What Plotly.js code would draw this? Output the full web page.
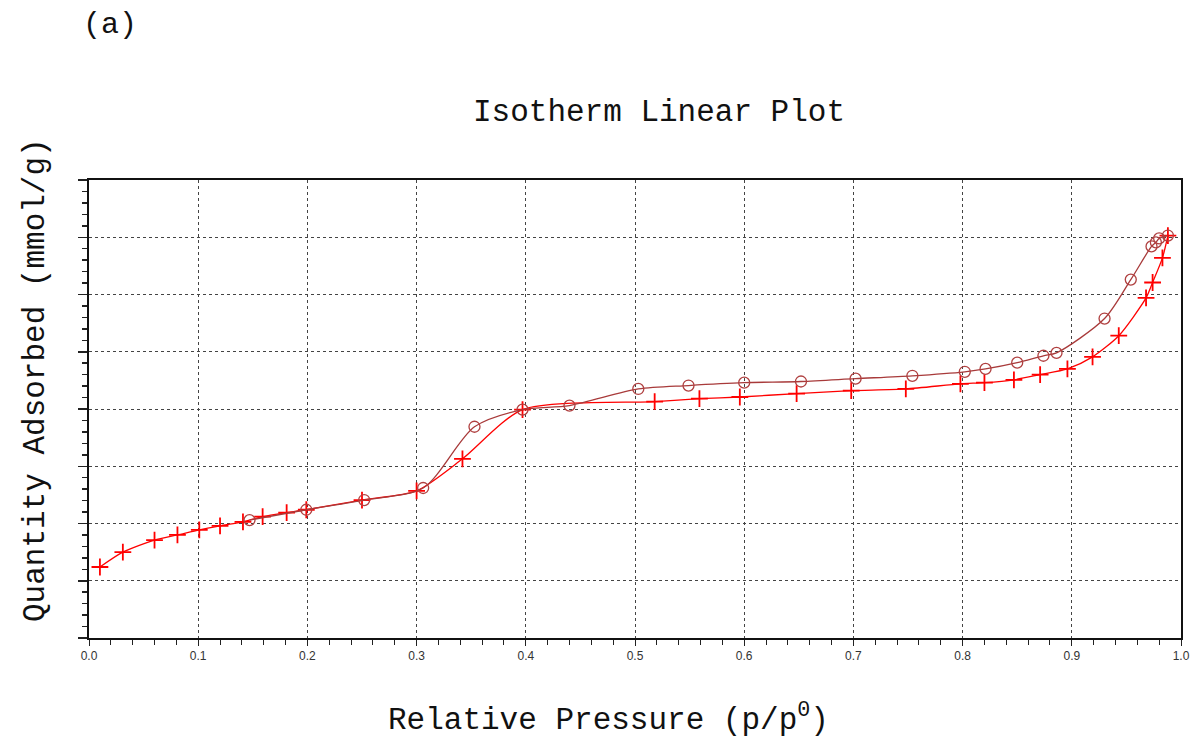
<!DOCTYPE html>
<html>
<head>
<meta charset="utf-8">
<script src="https://cdn.plot.ly/plotly-3.0.1.min.js"></script>
<style>
  html, body { margin: 0; padding: 0; background: #fff; }
  #chart { width: 1196px; height: 744px; }
</style>
</head>
<body>
<div id="chart"></div>
<script>
// Adsorption branch (relative pressure, quantity adsorbed)
const adsP = [0.010, 0.031, 0.060, 0.081, 0.101, 0.120, 0.141, 0.159, 0.181, 0.199,
              0.250, 0.300, 0.342, 0.397, 0.518, 0.559, 0.596, 0.648, 0.698, 0.748,
              0.798, 0.820, 0.847, 0.871, 0.896, 0.919, 0.943, 0.968, 0.974, 0.983, 0.988];
const adsQ = [1.24, 1.50, 1.71, 1.80, 1.89, 1.96, 2.03, 2.12, 2.19, 2.24,
              2.41, 2.57, 3.13, 3.99, 4.13, 4.18, 4.21, 4.27, 4.32, 4.35,
              4.44, 4.46, 4.51, 4.60, 4.70, 4.91, 5.28, 5.94, 6.21, 6.64, 7.03];

// Desorption branch
const desP = [0.988, 0.980, 0.977, 0.973, 0.954, 0.930, 0.886, 0.874, 0.850, 0.821,
              0.802, 0.754, 0.702, 0.652, 0.600, 0.549, 0.503, 0.440, 0.397, 0.353,
              0.306, 0.252, 0.199, 0.147];
const desQ = [7.03, 6.98, 6.91, 6.84, 6.26, 5.58, 4.98, 4.93, 4.81, 4.70,
              4.65, 4.58, 4.53, 4.48, 4.46, 4.41, 4.35, 4.06, 3.99, 3.69,
              2.62, 2.41, 2.24, 2.06];

const xTickVals = [0, 0.1, 0.2, 0.3, 0.4, 0.5, 0.6, 0.7, 0.8, 0.9, 1.0];
const xTickText = ['0.0', '0.1', '0.2', '0.3', '0.4', '0.5', '0.6', '0.7', '0.8', '0.9', '1.0'];

const titleFont = "'Liberation Mono', 'DejaVu Sans Mono', monospace";

const traces = [
  {
    x: adsP, y: adsQ, name: 'Adsorption', type: 'scatter', mode: 'lines+markers',
    line: { color: '#ff0000', width: 1.3, shape: 'spline', smoothing: 0.7 },
    marker: { symbol: 'cross-thin-open', size: 12, line: { color: '#ff0000', width: 1.8 } }
  },
  {
    x: desP, y: desQ, name: 'Desorption', type: 'scatter', mode: 'lines+markers',
    line: { color: '#a83a3a', width: 1.3, shape: 'spline', smoothing: 0.8 },
    marker: { symbol: 'circle-open', size: 11, color: '#b04040', line: { color: '#b04040', width: 1.3 } }
  }
];

const layout = {
  width: 1196, height: 744,
  paper_bgcolor: '#ffffff', plot_bgcolor: '#ffffff',
  margin: { l: 89, r: 15, t: 180, b: 106 },
  showlegend: false,
  title: {
    text: 'Isotherm Linear Plot',
    font: { family: titleFont, size: 31, color: '#111' },
    x: 659 / 1196, xref: 'container', xanchor: 'center',
    y: 1 - 110 / 744, yref: 'container', yanchor: 'middle'
  },
  xaxis: {
    range: [0, 1], tickvals: xTickVals, ticktext: xTickText,
    ticks: 'outside', ticklen: 6, tickcolor: '#222',
    showline: true, linecolor: '#111', linewidth: 2, mirror: true,
    showgrid: true, gridcolor: '#444', griddash: 'dot', gridwidth: 1,
    zeroline: false,
    tickfont: { family: "'Liberation Sans', Arial, sans-serif", size: 12, color: '#333' },
    minor: { dtick: 0.02, ticks: 'outside', ticklen: 5, tickcolor: '#222', showgrid: false }
  },
  yaxis: {
    range: [0, 8], dtick: 1, showticklabels: false,
    ticks: 'outside', ticklen: 9, tickcolor: '#222', tickwidth: 1.5,
    showline: true, linecolor: '#111', linewidth: 2, mirror: true,
    showgrid: true, gridcolor: '#444', griddash: 'dot', gridwidth: 1,
    zeroline: false,
    minor: { dtick: 0.2, ticks: 'outside', ticklen: 5, tickcolor: '#222', showgrid: false }
  },
  annotations: [
    {
      text: '(a)', xref: 'paper', yref: 'paper', showarrow: false,
      x: (110 - 89) / 1092, y: (638 - 25) / 458, xanchor: 'center', yanchor: 'middle',
      font: { family: titleFont, size: 30, color: '#111' }
    },
    {
      text: 'Relative Pressure (p/p<sup>0</sup>)', xref: 'paper', yref: 'paper', showarrow: false,
      x: (608 - 89) / 1092, y: (638 - 718) / 458, xanchor: 'center', yanchor: 'middle',
      font: { family: titleFont, size: 31, color: '#111' }
    },
    {
      text: 'Quantity Adsorbed (mmol/g)', xref: 'paper', yref: 'paper', showarrow: false,
      x: (35 - 89) / 1092, y: (638 - 380) / 458, xanchor: 'center', yanchor: 'middle',
      textangle: -90,
      font: { family: titleFont, size: 31, color: '#111' }
    }
  ]
};

Plotly.newPlot('chart', traces, layout, { displayModeBar: false, staticPlot: true });
</script>
</body>
</html>
